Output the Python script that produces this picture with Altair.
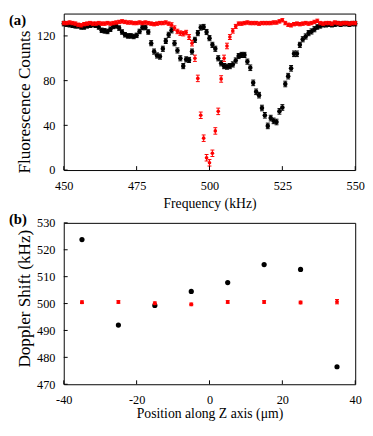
import altair as alt
import pandas as pd

FONT = "'Liberation Serif', 'Times New Roman', Times, 'DejaVu Serif', serif"

# ---------------- panel (a) data ----------------
freq = list(range(450, 551))  # kHz, 1 kHz steps

black_counts = [
    131, 130.5, 130, 129.5, 129, 129, 128, 128, 129, 129.5,        # 450-459
    130, 129.5, 128, 125, 124.5, 124, 126, 128.5, 129, 127,        # 460-469
    123.5, 121, 120, 120, 119.5, 120.5, 124, 127.5, 127.5, 123.5,  # 470-479
    113.5, 106, 102.5, 101.5, 108.5, 115.5, 121, 125, 113.5, 107,  # 480-489
    100, 93, 99, 98.5, 106, 116.5, 122.5, 127.5, 128, 123.5,       # 490-499
    118, 112, 108.5, 100, 95.5, 93, 92.5, 93, 94.5, 98,            # 500-509
    102, 103, 103, 97, 91.5, 78, 70, 67, 55.5, 49,                 # 510-519
    39.5, 46.5, 44, 43, 52.5, 56, 77, 84, 91, 104,                 # 520-529
    104, 112, 117, 119.5, 122.5, 124, 126, 128, 129, 130,          # 530-539
    130, 130.5, 130, 130.5, 131, 130.5, 131, 131, 130.5, 131,      # 540-549
    131,                                                           # 550
]
black_err = [
    2, 2, 2, 2, 2, 2, 2, 2, 2, 2,
    2, 2, 2, 2, 2, 2, 2, 2, 2, 2,
    2, 2, 2, 2, 2, 2, 2, 2, 2, 2,
    2.3, 2.3, 2.3, 2.3, 2.3, 2.3, 2.3, 2.3, 2.3, 2.3,
    2.3, 2.3, 2.3, 2.3, 2.3, 2.3, 2.3, 2.3, 2.3, 2.3,
    2.3, 2.3, 2.3, 2.3, 2.3, 2.3, 2.3, 2.3, 2.3, 2.3,
    2.3, 2.3, 2.3, 2.3, 2.5, 2.5, 2.5, 2.5, 2.5, 2.5,
    2.5, 2.5, 2.5, 2.5, 2.5, 2.5, 2.5, 2.5, 2.5, 2.5,
    2.5, 2.3, 2.3, 2.3, 2.3, 2.3, 2.3, 2, 2, 2,
    2, 2, 2, 2, 2, 2, 2, 2, 2, 2,
    2,
]
red_counts = [
    131.5, 131.5, 132, 131.5, 131, 130, 129.5, 130.5, 131, 131.5,  # 450-459
    131, 131, 131.5, 131, 131, 131.5, 131, 131.5, 132, 132.5,      # 460-469
    133, 132.5, 132, 132, 131.5, 131.5, 132, 131.5, 132, 131.5,    # 470-479
    131, 130.5, 131, 131.5, 131.5, 132, 131, 130, 127, 124,        # 480-489
    122.5, 122, 123, 119, 113.5, 100, 82, 49, 28.5, 11,            # 490-499
    6.5, 15, 35, 52.5, 81.5, 100, 111, 119, 124.5, 128.5,          # 500-509
    131, 131, 131.5, 132, 131.5, 131.5, 131.5, 131, 131.5, 131.5,  # 510-519
    131.5, 131.5, 132, 132, 133, 134, 131.5, 130, 129.5, 130.5,    # 520-529
    131, 130.5, 131, 131.5, 131, 131.5, 132.5, 133.5, 131.5, 131,  # 530-539
    131.5, 131.5, 131, 132, 131.5, 131, 131.5, 131.5, 131, 131.5,  # 540-549
    131.5,                                                         # 550
]
red_err = [
    1.5, 1.5, 1.5, 1.5, 1.5, 1.5, 1.5, 1.5, 1.5, 1.5,
    1.5, 1.5, 1.5, 1.5, 1.5, 1.5, 1.5, 1.5, 1.5, 1.5,
    1.5, 1.5, 1.5, 1.5, 1.5, 1.5, 1.5, 1.5, 1.5, 1.5,
    1.5, 1.5, 1.5, 1.5, 1.5, 1.5, 1.5, 1.8, 2, 2,
    2, 2, 2, 2.2, 2.5, 2.8, 2.9, 2.9, 2.9, 2.9,
    2.9, 2.9, 2.9, 2.9, 2.9, 2.8, 2.5, 2.2, 2, 1.8,
    1.5, 1.5, 1.5, 1.5, 1.5, 1.5, 1.5, 1.5, 1.5, 1.5,
    1.5, 1.5, 1.5, 1.5, 1.5, 1.5, 1.5, 1.5, 1.5, 1.5,
    1.5, 1.5, 1.5, 1.5, 1.5, 1.5, 1.5, 1.5, 1.5, 1.5,
    1.5, 1.5, 1.5, 1.5, 1.5, 1.5, 1.5, 1.5, 1.5, 1.5,
    1.5,
]

# ---------------- panel (b) data ----------------
position = [-35, -25, -15, -5, 5, 15, 25, 35]
shift_black = [523.8, 492.0, 499.3, 504.5, 507.8, 514.5, 512.7, 476.5]
shift_black_err = [0.4, 0.4, 0.4, 0.4, 0.4, 0.4, 0.4, 0.4]
shift_red = [500.5, 500.6, 500.1, 499.7, 500.6, 500.6, 500.4, 500.7]
shift_red_err = [0.5, 0.5, 0.5, 0.5, 0.5, 0.5, 0.5, 0.8]

# ticks
top_x_ticks = [450, 475, 500, 525, 550]
top_y_ticks = [0, 40, 80, 120]
bot_x_ticks = [-40, -20, 0, 20, 40]
bot_y_ticks = [470, 480, 490, 500, 510, 520, 530]

BLACK = "#000000"
RED = "#ff0000"
W = 298
H1 = 160
H2 = 165
TICK = 4


def frame_df(x, v, e):
    return pd.DataFrame({
        "x": x, "v": v,
        "lo": [a - b for a, b in zip(v, e)],
        "hi": [a + b for a, b in zip(v, e)],
    })


def series_layers(df, xenc, yscale, yaxis, color, size, cap):
    base = alt.Chart(df)
    y = alt.Y("v:Q", scale=yscale, axis=yaxis)
    bars = base.mark_rule(color=color, strokeWidth=1).encode(
        x=xenc, y=alt.Y("lo:Q", scale=yscale, axis=yaxis), y2="hi:Q")
    cap_lo = base.mark_tick(color=color, orient="horizontal", size=cap,
                            thickness=1, opacity=1).encode(
        x=xenc, y=alt.Y("lo:Q", scale=yscale, axis=yaxis))
    cap_hi = base.mark_tick(color=color, orient="horizontal", size=cap,
                            thickness=1, opacity=1).encode(
        x=xenc, y=alt.Y("hi:Q", scale=yscale, axis=yaxis))
    pts = base.mark_circle(color=color, size=size, opacity=1).encode(x=xenc, y=y)
    return [bars, cap_lo, cap_hi, pts]


def axis_x(vals, title, lab_pad, title_pad):
    return alt.Axis(values=vals, title=title, ticks=False, tickSize=0,
                    domain=False, grid=False, labelFont=FONT, labelFontSize=12.5,
                    labelColor="black", labelPadding=lab_pad,
                    labelExpr="'' + datum.value", labelFlush=False,
                    titleFont=FONT, titleFontSize=14, titleFontWeight="normal",
                    titleColor="black", titlePadding=title_pad)


def axis_y(vals, title, lab_pad, title_x, title_y):
    return alt.Axis(values=vals, title=title, ticks=False, tickSize=0,
                    domain=False, grid=False, labelFont=FONT, labelFontSize=12.5,
                    labelColor="black", labelPadding=lab_pad,
                    labelExpr="'' + datum.value", labelFlush=False,
                    titleFont=FONT, titleFontSize=17.5, titleFontWeight="normal",
                    titleColor="black", titleX=title_x, titleY=title_y,
                    titleAngle=270, titleAlign="center", titleBaseline="bottom")


def inner_ticks(xvals, yvals, xscale, yscale, xaxis, yaxis, h):
    xt = alt.Chart(pd.DataFrame({"t": xvals})).mark_rule(color="black").encode(
        x=alt.X("t:Q", scale=xscale, axis=xaxis),
        y=alt.value(h), y2=alt.value(h - TICK))
    yt = alt.Chart(pd.DataFrame({"t": yvals})).mark_rule(color="black").encode(
        y=alt.Y("t:Q", scale=yscale, axis=yaxis),
        x=alt.value(0), x2=alt.value(TICK))
    return [xt, yt]


def label(txt, y):
    return alt.Chart(pd.DataFrame({"t": [txt]})).mark_text(
        align="left", baseline="top", font=FONT, fontSize=15,
        fontWeight="bold", color="black").encode(
        text="t:N", x=alt.value(-56), y=alt.value(y))


# ---------------- panel (a) ----------------
xs1 = alt.Scale(domain=[450, 550], nice=False, zero=False)
ys1 = alt.Scale(domain=[0, 140], nice=False, zero=False)
xa1 = axis_x(top_x_ticks, "Frequency (kHz)", 10, 5)
ya1 = axis_y(top_y_ticks, "Fluorescence Counts", 9, -31, 90)
x1 = alt.X("x:Q", scale=xs1, axis=xa1)

df_b = frame_df(freq, black_counts, black_err)
df_r = frame_df(freq, red_counts, red_err)

top = alt.layer(
    *series_layers(df_b, x1, ys1, ya1, BLACK, 22, 4),
    *series_layers(df_r, x1, ys1, ya1, RED, 14, 4),
    *inner_ticks(top_x_ticks, top_y_ticks, xs1, ys1, xa1, ya1, H1),
    label("(a)", 0),
).properties(width=W, height=H1)

# ---------------- panel (b) ----------------
xs2 = alt.Scale(domain=[-40, 40], nice=False, zero=False)
ys2 = alt.Scale(domain=[470, 530], nice=False, zero=False)
xa2 = axis_x(bot_x_ticks, "Position along Z axis (\u03bcm)", 10, 1)
ya2 = axis_y(bot_y_ticks, "Doppler Shift (kHz)", 9, -31, 77)
x2 = alt.X("x:Q", scale=xs2, axis=xa2)

df2_b = frame_df(position, shift_black, shift_black_err)
df2_r = frame_df(position, shift_red, shift_red_err)

bottom = alt.layer(
    *series_layers(df2_b, x2, ys2, ya2, BLACK, 28, 3),
    *series_layers(df2_r, x2, ys2, ya2, RED, 16, 4),
    *inner_ticks(bot_x_ticks, bot_y_ticks, xs2, ys2, xa2, ya2, H2),
    label("(b)", -11),
).properties(width=W, height=H2)

chart = alt.vconcat(top, bottom, spacing=0).properties(
    padding=0, background="white"
).configure_view(stroke="black", strokeWidth=1)

chart.save("out.html", embed_options={"renderer": "svg", "actions": False})
